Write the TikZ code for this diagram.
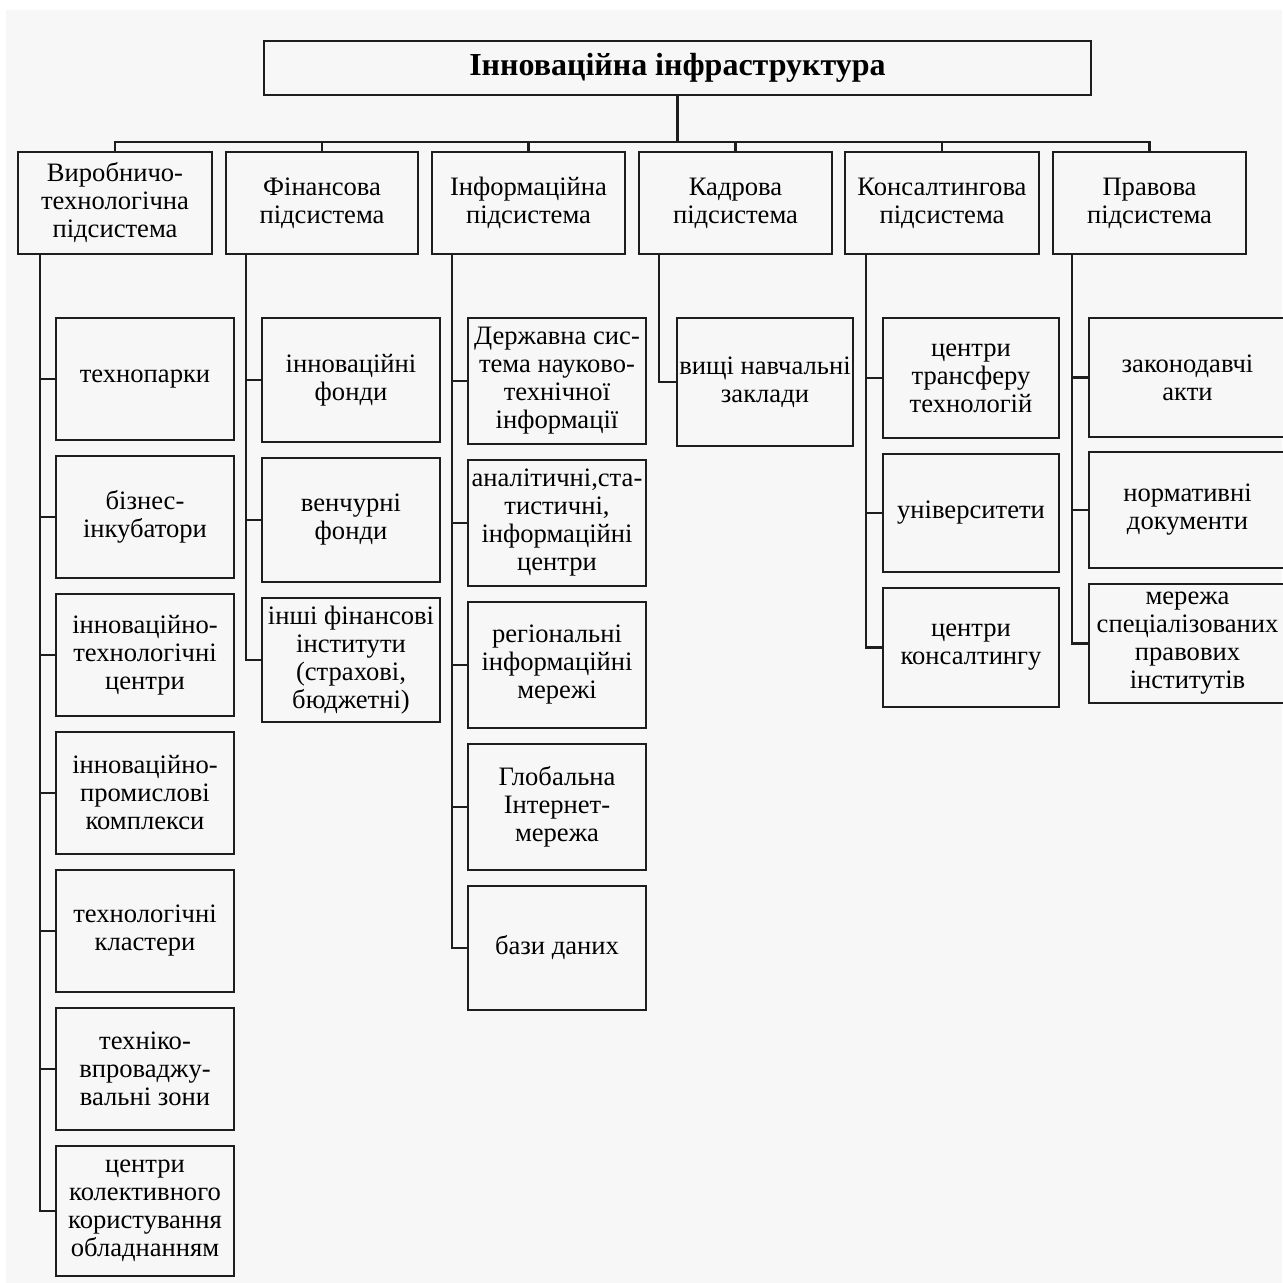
\documentclass[tikz,border=0pt]{standalone}
\usepackage{fontspec}
\setmainfont{Liberation Serif}
\definecolor{bg}{RGB}{247,247,247}
\definecolor{ln}{RGB}{30,30,30}
\newcommand\mkbox[6]{\node[box, minimum width={(#4-#2)*0.5pt}, minimum height={(#5-#3)*0.5pt}] (#1) at ({(#2+#4)/2},{(#3+#5)/2}) {#6};}
\begin{document}
\begin{tikzpicture}[x=0.5pt,y=-0.5pt,
  box/.style={draw=ln, line width=1pt, fill=bg, align=center, inner sep=0pt,
    font=\fontsize{13.3}{14}\selectfont},
  conn/.style={draw=ln, line width=1.4pt}]
\useasboundingbox (0,0) rectangle (1282,1283);
\fill[white] (0,0) rectangle (1282,1283);
\fill[bg] (6,10) rectangle (1282,1283);

% top
\node[box, font=\fontsize{16}{18}\selectfont\bfseries, minimum width={827*0.5pt}, minimum height={54*0.5pt}] (top) at (677.5,68) {Інноваційна інфраструктура};

% subsystems
\mkbox{s1}{18}{152}{212}{254}{Виробничо-\\технологічна\\підсистема}
\mkbox{s2}{226}{152}{418}{254}{Фінансова\\підсистема}
\mkbox{s3}{432}{152}{625}{254}{Інформаційна\\підсистема}
\mkbox{s4}{639}{152}{832}{254}{Кадрова\\підсистема}
\mkbox{s5}{845}{152}{1039}{254}{Консалтингова\\підсистема}
\mkbox{s6}{1053}{152}{1246}{254}{Правова\\підсистема}

\coordinate (bus) at (678,142);
\foreach \s in {s1,s2,s3,s4,s5,s6}
  \draw[conn] (top.south) -- (top.south |- bus) -| (\s.north);

% column 1
\mkbox{a1}{56}{318}{234}{440}{технопарки}
\mkbox{a2}{56}{456}{234}{578}{бізнес-\\інкубатори}
\mkbox{a3}{56}{594}{234}{716}{інноваційно-\\технологічні\\центри}
\mkbox{a4}{56}{732}{234}{854}{інноваційно-\\промислові\\комплекси}
\mkbox{a5}{56}{870}{234}{992}{технологічні\\кластери}
\mkbox{a6}{56}{1008}{234}{1130}{техніко-\\впроваджу-\\вальні зони}
\mkbox{a7}{56}{1146}{234}{1276}{центри\\колективного\\користування\\обладнанням}
\coordinate (t1) at (40,254);
\foreach \i in {a1,a2,a3,a4,a5,a6,a7} \draw[conn] (t1) |- (\i.west);

% column 2
\mkbox{b1}{262}{318}{440}{442}{інноваційні\\фонди}
\mkbox{b2}{262}{458}{440}{582}{венчурні\\фонди}
\mkbox{b3}{262}{598}{440}{722}{інші фінансові\\інститути\\(страхові,\\бюджетні)}
\coordinate (t2) at (246,254);
\foreach \i in {b1,b2,b3} \draw[conn] (t2) |- (\i.west);

% column 3
\mkbox{c1}{468}{318}{646}{444}{Державна сис-\\тема науково-\\технічної\\інформації}
\mkbox{c2}{468}{460}{646}{586}{аналітичні,ста-\\тистичні,\\інформаційні\\центри}
\mkbox{c3}{468}{602}{646}{728}{регіональні\\інформаційні\\мережі}
\mkbox{c4}{468}{744}{646}{870}{Глобальна\\Інтернет-\\мережа}
\mkbox{c5}{468}{886}{646}{1010}{бази даних}
\coordinate (t3) at (452,254);
\foreach \i in {c1,c2,c3,c4,c5} \draw[conn] (t3) |- (\i.west);

% column 4
\mkbox{d1}{677}{318}{853}{446}{вищі навчальні\\заклади}
\coordinate (t4) at (659,254);
\draw[conn] (t4) |- (d1.west);

% column 5
\mkbox{e1}{883}{318}{1059}{438}{центри\\трансферу\\технологій}
\mkbox{e2}{883}{454}{1059}{572}{університети}
\mkbox{e3}{883}{588}{1059}{707}{центри\\консалтингу}
\coordinate (t5) at (866,254);
\foreach \i in {e1,e2,e3} \draw[conn] (t5) |- (\i.west);

% column 6
\mkbox{f1}{1089}{318}{1286}{437}{законодавчі\\акти}
\mkbox{f2}{1089}{452}{1286}{568}{нормативні\\документи}
\mkbox{f3}{1089}{584}{1286}{703}{мережа\\спеціалізованих\\правових\\інститутів}
\coordinate (t6) at (1072,254);
\foreach \i in {f1,f2,f3} \draw[conn] (t6) |- (\i.west);
\end{tikzpicture}
\end{document}
